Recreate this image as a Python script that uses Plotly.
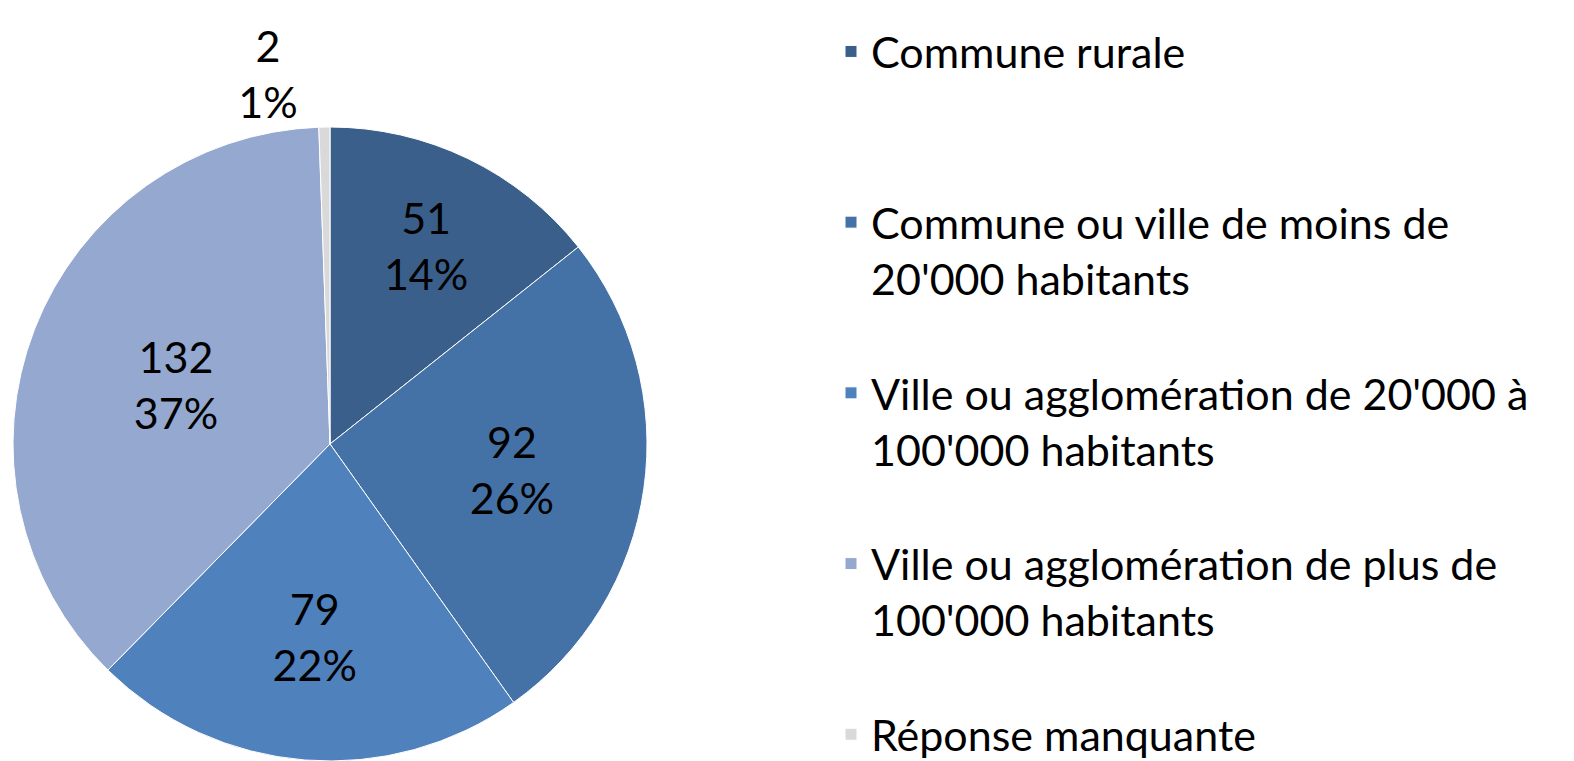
import plotly.graph_objects as go

labels = [
    "Commune rurale",
    "Commune ou ville de moins de<br>20'000 habitants",
    "Ville ou agglomération de 20'000 à<br>100'000 habitants",
    "Ville ou agglomération de plus de<br>100'000 habitants",
    "Réponse manquante",
]
values = [51, 92, 79, 132, 2]
colors = ["#3A5F8B", "#4472A7", "#4F81BD", "#95A9D0", "#D9D9D9"]
positions = ["inside", "inside", "inside", "inside", "outside"]

# pad legend entries (except the last) to three lines each so the spacing matches
def pad(lbl, last):
    if last:
        return lbl
    n = lbl.count("<br>") + 1
    return lbl + "<br>&nbsp;" * (3 - n)

legend_labels = [pad(l, i == len(labels) - 1) for i, l in enumerate(labels)]

W, H = 1574, 761
cx, cy, r = 322, 436, 317
FS = 43

fig = go.Figure(go.Pie(
    labels=legend_labels,
    values=values,
    sort=False,
    direction="clockwise",
    rotation=0,
    marker=dict(colors=colors, line=dict(color="white", width=1)),
    texttemplate="%{value}<br>%{percent:.0%}",
    textposition=positions,
    insidetextorientation="horizontal",
    textfont=dict(family="Lato", size=FS, color="black"),
    outsidetextfont=dict(family="Lato", size=FS, color="black"),
    hovertemplate="%{label}: %{value}<extra></extra>",
    domain=dict(x=[(cx - r) / W, (cx + r) / W], y=[(H - cy - r) / H, (H - cy + r) / H]),
))

fig.update_layout(
    width=W, height=H,
    margin=dict(l=0, r=0, t=0, b=0),
    paper_bgcolor="white",
    font=dict(family="Lato", size=FS, color="black"),
    showlegend=True,
    legend=dict(
        x=823 / W, xanchor="left",
        y=1 - 31 / H, yanchor="top",
        valign="top",
        maxheight=H,
        font=dict(family="Lato", size=FS, color="black"),
        bgcolor="rgba(0,0,0,0)",
        itemclick=False,
    ),
)

fig.write_html("out.html")
